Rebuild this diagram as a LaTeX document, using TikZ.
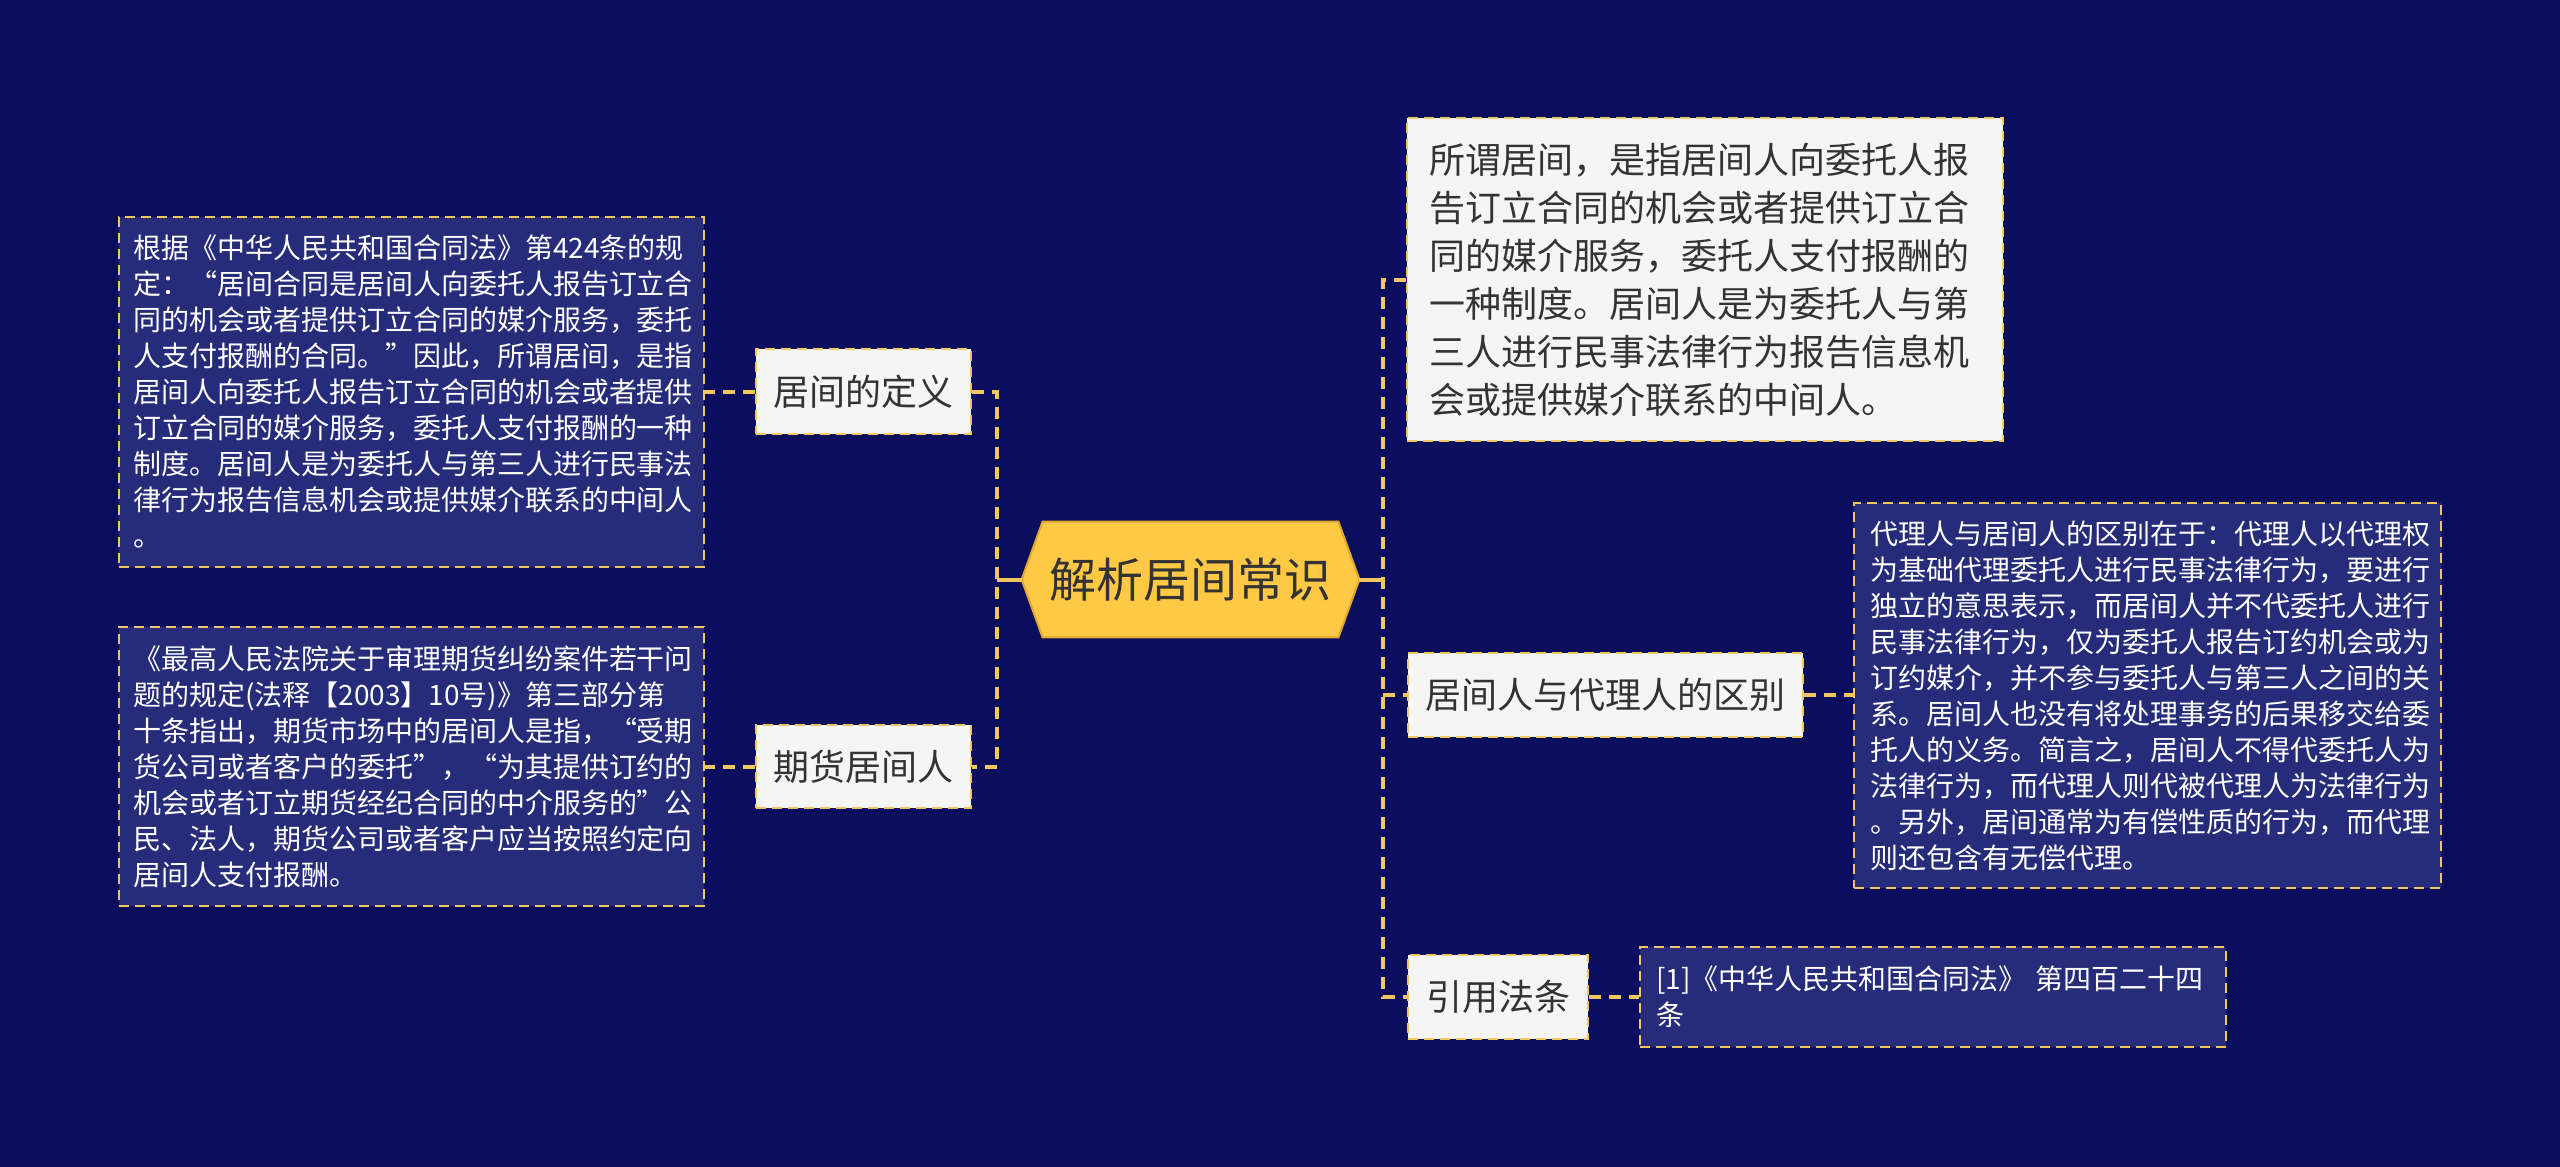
\documentclass[tikz,border=0pt]{standalone}
\usepackage{fontspec}
\setmainfont{Noto Sans CJK SC}
\usetikzlibrary{calc}
\definecolor{bgc}{HTML}{0A0E5C}
\definecolor{boxc}{HTML}{262B7A}
\definecolor{goldc}{HTML}{F2C65E}
\definecolor{hexc}{HTML}{FFC845}
\definecolor{hexb}{HTML}{E0A82E}
\definecolor{lightc}{HTML}{F5F5F5}
\definecolor{txtc}{HTML}{333333}
\pgfdeclarelayer{back}
\pgfdeclarelayer{hexlayer}
\pgfsetlayers{back,hexlayer,main}
\begin{document}
\begin{tikzpicture}[x=0.5pt,y=-0.5pt,
  darkbox/.style={draw=goldc, fill=boxc, line width=1.2pt, dash pattern=on 5pt off 3pt, text=white, font=\fontsize{14}{18}\selectfont, align=left, inner xsep=7pt, inner ysep=0pt},
  lightnode/.style={draw=goldc, fill=lightc, line width=1.2pt, dash pattern=on 5pt off 3pt, text=txtc, font=\fontsize{18}{24}\selectfont, inner sep=0pt},
  dashc/.style={draw=goldc, line width=2pt, dash pattern=on 6pt off 4pt},
  solidc/.style={draw=goldc, line width=2pt},
]
\begin{pgfonlayer}{back}
\fill[bgc] (0,0) rectangle (2560,1167);
\end{pgfonlayer}
\useasboundingbox (0,0) rectangle (2560,1167);

\node[darkbox, text width=278.5pt, minimum height=175pt] (A) at (411.5,392) {根据《中华人民共和国合同法》第424条的规\\定：“居间合同是居间人向委托人报告订立合\\同的机会或者提供订立合同的媒介服务，委托\\人支付报酬的合同。”因此，所谓居间，是指\\居间人向委托人报告订立合同的机会或者提供\\订立合同的媒介服务，委托人支付报酬的一种\\制度。居间人是为委托人与第三人进行民事法\\律行为报告信息机会或提供媒介联系的中间人\\。};
\node[darkbox, text width=278.5pt, minimum height=139.5pt] (B) at (411.5,766.5) {《最高人民法院关于审理期货纠纷案件若干问\\题的规定(法释【2003】10号)》第三部分第\\十条指出，期货市场中的居间人是指，“受期\\货公司或者客户的委托”，“为其提供订约的\\机会或者订立期货经纪合同的中介服务的”公\\民、法人，期货公司或者客户应当按照约定向\\居间人支付报酬。};
\node[lightnode, minimum width=107.5pt, minimum height=42.5pt] (def) at (863.5,391.5) {居间的定义};
\node[lightnode, minimum width=107.5pt, minimum height=41.5pt] (fut) at (863.5,766.5) {期货居间人};
\node[font=\fontsize{23.5}{28}\selectfont, text=txtc, minimum width=168.5pt, minimum height=57.5pt, inner sep=0pt] (root) at (1190.5,579.5) {解析居间常识};
\node[lightnode, align=left, text width=276pt, inner xsep=11pt, minimum height=161.5pt] (white) at (1705,279.5) {所谓居间，是指居间人向委托人报\\告订立合同的机会或者提供订立合\\同的媒介服务，委托人支付报酬的\\一种制度。居间人是为委托人与第\\三人进行民事法律行为报告信息机\\会或提供媒介联系的中间人。};
\node[lightnode, minimum width=197.5pt, minimum height=42pt] (diff) at (1605.5,695) {居间人与代理人的区别};
\node[darkbox, inner xsep=8pt, text width=277.5pt, minimum height=192.5pt] (C) at (2147.5,695.5) {代理人与居间人的区别在于：代理人以代理权\\为基础代理委托人进行民事法律行为，要进行\\独立的意思表示，而居间人并不代委托人进行\\民事法律行为，仅为委托人报告订约机会或为\\订约媒介，并不参与委托人与第三人之间的关\\系。居间人也没有将处理事务的后果移交给委\\托人的义务。简言之，居间人不得代委托人为\\法律行为，而代理人则代被代理人为法律行为\\。另外，居间通常为有偿性质的行为，而代理\\则还包含有无偿代理。};
\node[lightnode, minimum width=90pt, minimum height=42pt] (ref) at (1498,997) {引用法条};
\node[darkbox, inner xsep=8pt, text width=277pt, minimum height=50pt] (D) at (1933,997) {[1]《中华人民共和国合同法》~第四百二十四\\条};

\begin{pgfonlayer}{hexlayer}
\filldraw[fill=hexc, draw=hexb, line width=1pt] ([xshift=10.5pt]root.north west) -- ([xshift=-10.5pt]root.north east) -- (root.east) -- ([xshift=-10.5pt]root.south east) -- ([xshift=10.5pt]root.south west) -- (root.west) -- cycle;
\end{pgfonlayer}

\coordinate (ltr) at (997,579.5);
\coordinate (rtr) at (1383,579.5);
\draw[solidc] (root.west) -- (ltr);
\draw[solidc] (root.east) -- (rtr);
\draw[dashc] (def.east) -| (ltr) |- (fut.east);
\draw[dashc] (white.west) -| (rtr) |- (ref.west);
\draw[dashc] (rtr |- diff.west) -- (diff.west);
\draw[dashc] (def.west) -- (def.west -| A.east);
\draw[dashc] (fut.west) -- (fut.west -| B.east);
\draw[dashc] (diff.east) -- (diff.east -| C.west);
\draw[dashc] (ref.east) -- (ref.east -| D.west);
\end{tikzpicture}
\end{document}
